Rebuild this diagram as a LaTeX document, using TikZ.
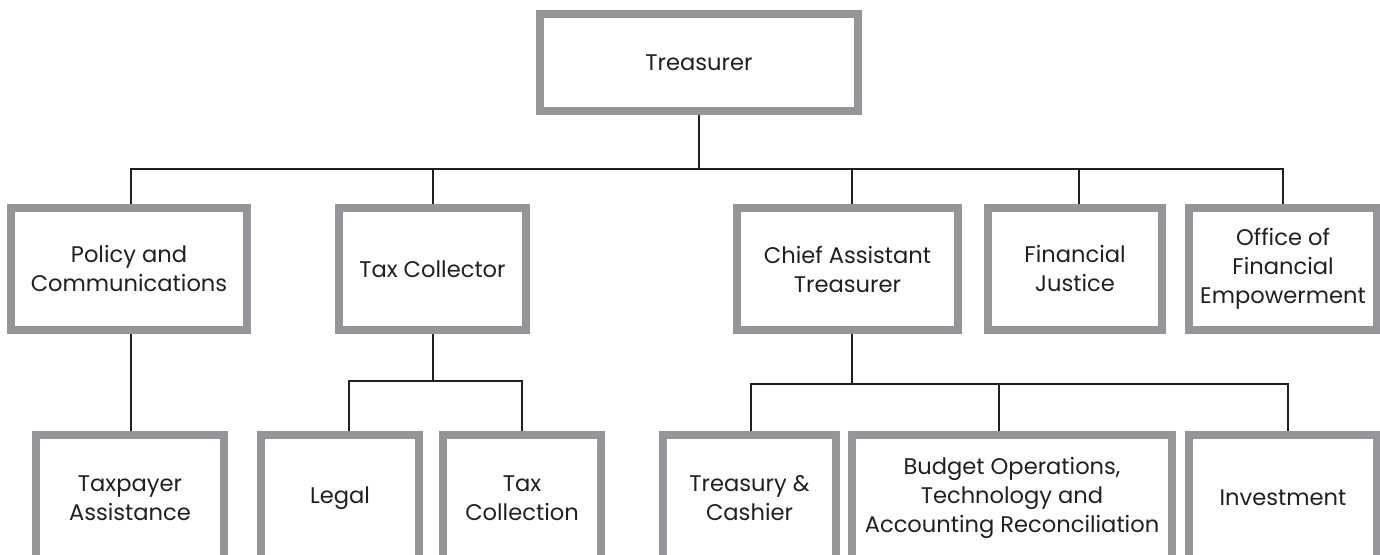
\documentclass[tikz,border=0pt]{standalone}
\usepackage{fontspec}
\setmainfont{Poppins}
\definecolor{boxgray}{HTML}{939598}
\definecolor{inkblack}{HTML}{231F20}

\begin{document}
\begin{tikzpicture}[
    x=0.5pt, y=-0.5pt,
    box/.style={draw=boxgray, line width=4pt, fill=white, align=center, inner sep=0pt, text=inkblack, font=\fontsize{11.3}{14.5}\selectfont},
    mid/.style={box, minimum height=61pt},
    low/.style={box, minimum height=63pt},
    link/.style={draw=inkblack, line width=1pt}
]
\useasboundingbox (0,0) rectangle (1380,555);
\clip (0,0) rectangle (1380,555);
\node[box, minimum width=159pt, minimum height=48.5pt] (treas) at (699,62.5) {Treasurer};
\node[mid, minimum width=118pt] (policy) at (129,269) {Policy and\\Communications};
\node[mid, minimum width=93.5pt] (taxcoll) at (432.5,269) {Tax Collector};
\node[mid, minimum width=110.5pt] (chief) at (847.5,269) {Chief Assistant\\Treasurer};
\node[mid, minimum width=87pt] (finjust) at (1075,269) {Financial\\Justice};
\node[mid, minimum width=94pt] (ofe) at (1283,269) {Office of\\Financial\\Empowerment};
\node[low, minimum width=94pt] (taxpay) at (130,498) {Taxpayer\\Assistance};
\node[low, minimum width=79pt] (legal) at (340,498) {Legal};
\node[low, minimum width=79pt] (taxcoln) at (522,498) {Tax\\Collection};
\node[low, minimum width=86.5pt] (cashier) at (749.5,498) {Treasury \&\\Cashier};
\node[low, minimum width=160pt] (budget) at (1012,498) {Budget Operations,\\Technology and\\Accounting Reconciliation};
\node[low, minimum width=94pt] (invest) at (1283,498) {Investment};
\draw[link] (treas.south) -- ++(0,54) coordinate (bus);
\foreach \n/\dx in {policy/1, taxcoll/0, chief/2.25, finjust/2, ofe/0}
  \draw[link] (bus) -| ([xshift=\dx pt]\n.north);
\draw[link] ([xshift=1pt]policy.south) -- ([xshift=1pt]policy.south |- taxpay.north);
\draw[link] (taxcoll.south) -- ++(0,47) coordinate (tcbus);
\foreach \n/\dx in {legal/4.5, taxcoln/0}
  \draw[link] (tcbus) -| ([xshift=\dx pt]\n.north);
\draw[link] ([xshift=2.25pt]chief.south) -- ++(0,50) coordinate (cbus);
\foreach \n/\dx in {cashier/0.75, budget/-6.5, invest/2.5}
  \draw[link] (cbus) -| ([xshift=\dx pt]\n.north);
\end{tikzpicture}
\end{document}
